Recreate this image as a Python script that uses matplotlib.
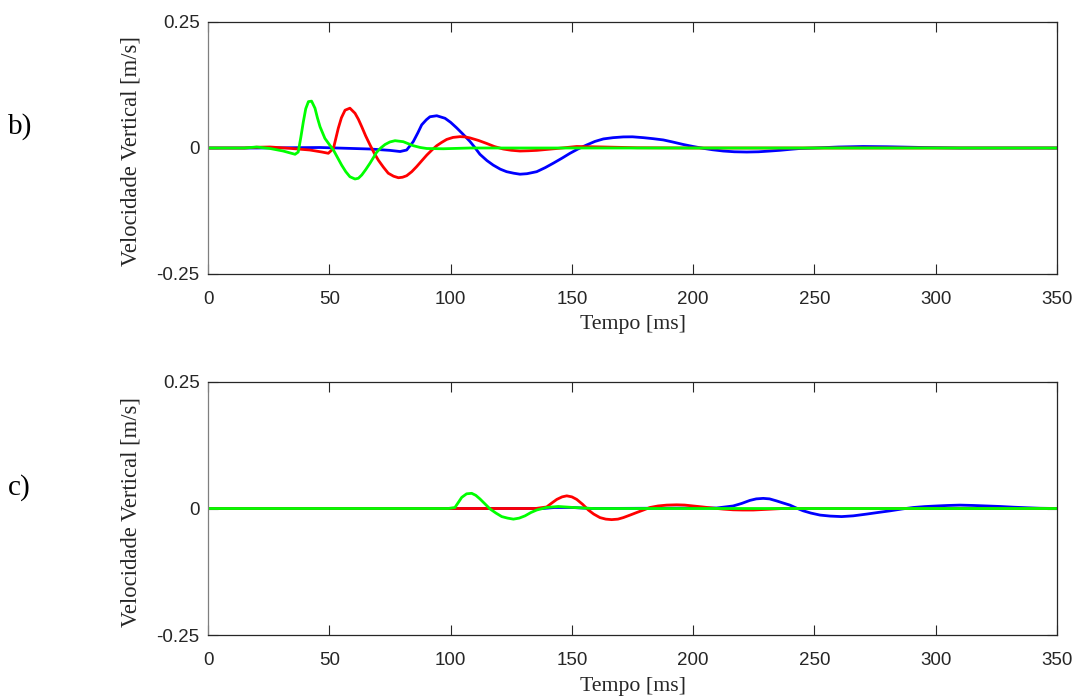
import matplotlib
matplotlib.use("Agg")
import matplotlib.pyplot as plt

# ---------------- data ----------------
# Panel b)
b_blue_t = [0, 20, 46.2, 66.8, 75, 79.2, 81.9, 84.6, 86.5, 88.1, 90, 91.5, 94.3, 97.7, 100,
            102.5, 105, 108, 110, 112.1, 115, 117.6, 120.5, 123.1, 126, 128.6, 131.5, 135.5,
            139, 142.4, 146, 149.2, 152.5, 156.1, 159.5, 163, 167, 171.2, 175, 179.5, 183.5,
            187.7, 191.5, 195.9, 200, 204.2, 208, 212.4, 217, 222.1, 227, 231.7, 236,
            239.9, 244, 250, 260, 270, 280, 295, 310, 350]
b_blue_v = [0, 0, 0.001, -0.002, -0.0047, -0.007, -0.004, 0.0125, 0.030, 0.046, 0.056, 0.062,
            0.064, 0.059, 0.051, 0.040, 0.028, 0.013, 0.001, -0.0125, -0.025, -0.034, -0.042,
            -0.047, -0.050, -0.052, -0.051, -0.047, -0.039, -0.030, -0.020, -0.0106, -0.002,
            0.006, 0.013, 0.018, 0.0205, 0.022, 0.0222, 0.0205, 0.0185, 0.016, 0.012, 0.007,
            0.003, -0.0007, -0.0035, -0.006, -0.0075, -0.008, -0.0075, -0.006, -0.0045,
            -0.0027, -0.001, 0.0, 0.002, 0.003, 0.0025, 0.001, 0.0, 0.0]

b_red_t = [0, 15, 20, 25.6, 33.8, 42, 47, 49.6, 51.7, 53.7, 55, 56.5, 58.5, 60.6, 62, 63.4,
           65, 66.8, 68.5, 70.2, 72.3, 74.3, 76.5, 78.5, 80.2, 81.9, 84, 86, 88, 90.2, 92.3,
           94.3, 96.3, 98.4, 101, 103.9, 106, 108, 111.5, 114.9, 118, 121.7, 125, 128.6,
           132, 135.5, 143.8, 152, 163, 177, 200, 350]
b_red_v = [0, 0, 0.0015, 0.002, -0.0007, -0.004, -0.008, -0.0105, -0.001, 0.039, 0.060, 0.075,
           0.079, 0.069, 0.057, 0.042, 0.024, 0.006, -0.010, -0.024, -0.038, -0.050, -0.056,
           -0.059, -0.058, -0.055, -0.047, -0.037, -0.026, -0.014, -0.004, 0.0046, 0.011,
           0.017, 0.021, 0.0225, 0.022, 0.020, 0.015, 0.009, 0.003, -0.002, -0.0045, -0.006,
           -0.0055, -0.0047, -0.001, 0.003, 0.002, 0.0005, 0.0, 0.0]

b_green_t = [0, 15, 20, 25.6, 31, 35.9, 37.2, 38.3, 39.3, 40.3, 41.4, 42.7, 44.1, 45.1, 46.2,
             48.2, 50, 51.7, 53.4, 55.1, 56.8, 58.5, 60.6, 62, 63.4, 65, 66.8, 68.2, 69.5,
             71.2, 73, 75, 77.1, 80.5, 84.6, 87.5, 90.2, 97, 108, 350]
b_green_v = [0, 0, 0.002, -0.001, -0.006, -0.0125, -0.008, 0.022, 0.052, 0.078, 0.092, 0.093,
             0.079, 0.060, 0.042, 0.019, 0.007, -0.004, -0.019, -0.034, -0.047, -0.057,
             -0.0615, -0.060, -0.0535, -0.043, -0.030, -0.019, -0.0086, 0.0, 0.007, 0.012,
             0.0145, 0.0125, 0.0046, 0.001, -0.001, -0.0015, 0.0, 0.0]

# Panel c)
c_blue_t = [0, 138, 143, 150, 158, 209.7, 216.5, 220, 223.4, 226, 228.9, 231.5, 234.4, 237,
            239.9, 242.5, 245.4, 248.5, 252.3, 256.5, 261.2, 266, 271.6, 276, 281.2, 286,
            290.8, 295.5, 300.4, 305, 310, 315.5, 321, 326.5, 332, 337.5, 343, 350]
c_blue_v = [0, 0, 0.002, 0.002, 0, 0.001, 0.005, 0.010, 0.016, 0.019, 0.020, 0.019, 0.015,
            0.011, 0.0067, 0.001, -0.0046, -0.009, -0.013, -0.015, -0.016, -0.0145, -0.011,
            -0.008, -0.0046, -0.001, 0.002, 0.0038, 0.005, 0.006, 0.0067, 0.006, 0.005,
            0.004, 0.0026, 0.0015, 0.0005, 0]

c_red_t = [0, 135, 139.6, 141.5, 143.8, 146, 147.9, 150, 152, 154.5, 156.8, 159, 161.6, 164,
           166.4, 169, 171.2, 174, 176.7, 179.5, 182.2, 185.5, 189.1, 193.2, 196.5, 200, 204,
           208.3, 212.5, 216.5, 220.5, 224.8, 231, 237, 350]
c_red_v = [0, 0, 0.003, 0.010, 0.018, 0.023, 0.025, 0.023, 0.018, 0.008, -0.003, -0.011,
           -0.018, -0.021, -0.022, -0.021, -0.018, -0.013, -0.008, -0.003, 0.002, 0.005,
           0.0067, 0.0073, 0.0068, 0.005, 0.003, 0.0007, -0.0012, -0.0026, -0.003, -0.003,
           -0.0015, 0.0, 0.0]

c_green_t = [0, 99, 101.8, 103.2, 104.6, 106.6, 108.7, 110.4, 112.1, 114.2, 116.3, 118.7,
             121.1, 123.5, 125.9, 128.3, 130.7, 133.1, 135.5, 139.6, 144.4, 150.6, 158.8, 350]
c_green_v = [0, 0, 0.002, 0.012, 0.022, 0.029, 0.030, 0.026, 0.019, 0.009, -0.001, -0.009,
             -0.016, -0.019, -0.021, -0.019, -0.0145, -0.008, -0.003, 0.002, 0.004, 0.002,
             0.0, 0.0]

x_ticks = [0, 50, 100, 150, 200, 250, 300, 350]
y_ticks = [-0.25, 0, 0.25]
y_ticklabels = ["-0.25", "0", "0.25"]
panel_labels = ["b)", "c)"]
xlabel = "Tempo [ms]"
ylabel = "Velocidade Vertical [m/s]"

# ---------------- figure ----------------
fig = plt.figure(figsize=(10.77, 6.98), dpi=100)
W, H = 1077, 698

def ax_rect(x0, y0, x1, y1):
    return [x0 / W, 1 - y1 / H, (x1 - x0) / W, (y1 - y0) / H]

axes = [fig.add_axes(ax_rect(208, 22, 1057, 274)),
        fig.add_axes(ax_rect(208, 382, 1057, 635))]

panels = [
    (b_blue_t, b_blue_v, b_red_t, b_red_v, b_green_t, b_green_v),
    (c_blue_t, c_blue_v, c_red_t, c_red_v, c_green_t, c_green_v),
]

tick_font = dict(family=["Liberation Sans", "DejaVu Sans"], size=13.5)
serif = ["Liberation Serif", "DejaVu Serif"]
dark = "#262626"

for ax, (bt, bv, rt, rv, gt, gv), lab in zip(axes, panels, panel_labels):
    ax.plot(bt, bv, color="#0000ff", lw=2.0, solid_joinstyle="round")
    ax.plot(rt, rv, color="#ff0000", lw=2.0, solid_joinstyle="round")
    ax.plot(gt, gv, color="#00ff00", lw=2.0, solid_joinstyle="round")
    ax.set_xlim(0, 350)
    ax.set_ylim(-0.25, 0.25)
    ax.set_xticks(x_ticks)
    ax.set_yticks(y_ticks)
    ax.set_xticklabels([str(v) for v in x_ticks], **tick_font, color=dark)
    ax.set_yticklabels(y_ticklabels, **tick_font, color=dark)
    ax.tick_params(axis="x", direction="in", length=7, width=0.8, color=dark,
                   top=True, pad=12)
    ax.tick_params(axis="y", direction="in", length=7, width=0.8, color=dark,
                   right=True, pad=6)
    for s in ["top", "right", "bottom"]:
        ax.spines[s].set_color(dark)
        ax.spines[s].set_linewidth(0.9)
    ax.spines["left"].set_color("#7f7f7f")
    ax.spines["left"].set_linewidth(0.9)
    ax.set_xlabel(xlabel, family=serif, size=15.7, color=dark)
    ax.xaxis.set_label_coords(0.5, -51 / 252, transform=ax.transAxes)
    ax.xaxis.label.set_va("center")
    ax.set_ylabel(ylabel, family=serif, size=16.3, color=dark)
    ax.yaxis.set_label_coords(-77 / 849, 0.486, transform=ax.transAxes)
    ax.yaxis.label.set_va("center")
    pos = ax.get_position()
    fig.text(8 / W, pos.y0 + pos.height / 2 + 21 / H, lab, family=serif, size=21,
             color="black", va="center", ha="left")

fig.savefig("out.png", dpi=100)
